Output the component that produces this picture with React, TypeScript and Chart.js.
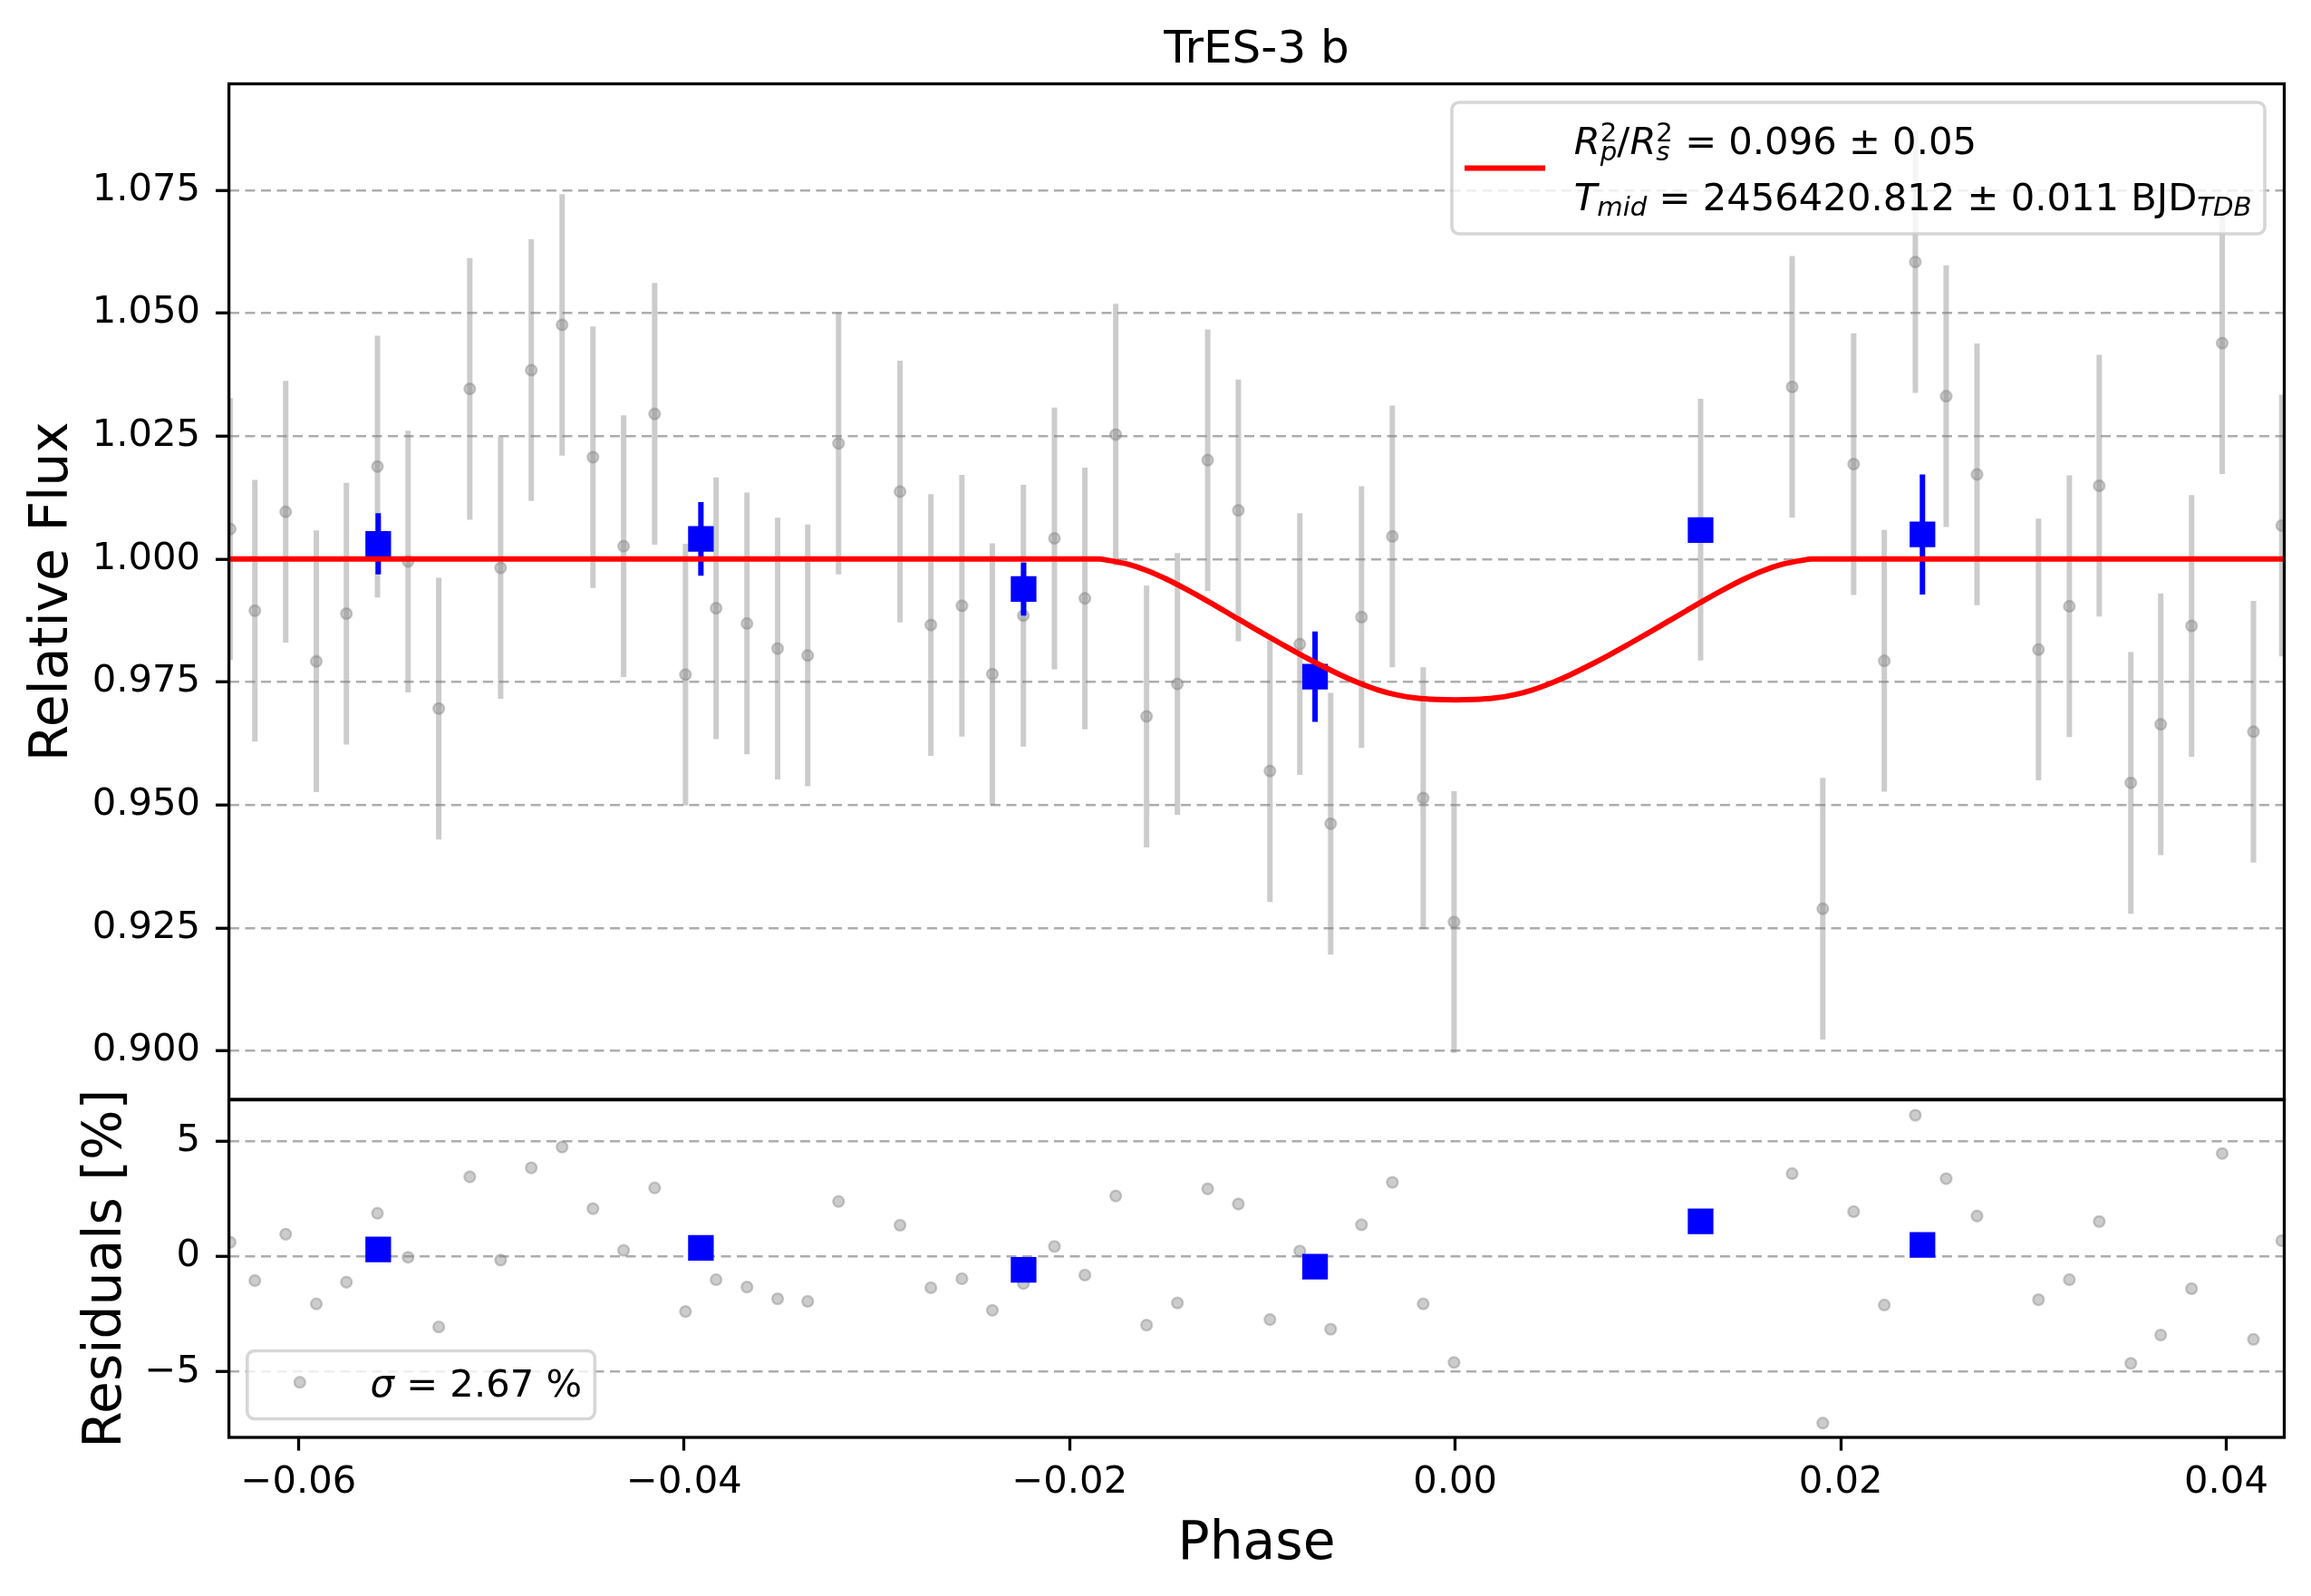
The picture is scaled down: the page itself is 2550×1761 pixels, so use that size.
import React, { useEffect, useRef } from 'react';
import { Chart, registerables } from 'chart.js';

Chart.register(...registerables);

// ---------- data ----------
const PHASE = [
  -0.06355, -0.06227, -0.06067, -0.05908, -0.05752, -0.05591, -0.05432, -0.05273, -0.05112, -0.04952,
  -0.04793, -0.04633, -0.04473, -0.04314, -0.04153, -0.03993, -0.03834, -0.03674, -0.03515, -0.03359,
  -0.03199, -0.0288, -0.0272, -0.02559, -0.02401, -0.0224, -0.02079, -0.01921, -0.01761, -0.01601,
  -0.01441, -0.01284, -0.01125, -0.00961, -0.00806, -0.00646, -0.00486, -0.00326, -0.00166, -0.00006,
  0.01273, 0.01748, 0.01907, 0.02067, 0.02226, 0.02387, 0.02547, 0.02707, 0.03026, 0.03186,
  0.03341, 0.03505, 0.0366, 0.0382, 0.03979, 0.04141, 0.04288,
];
const FLUX = [
  1.0061, 0.9895, 1.0096, 0.9792, 0.9889, 1.0188, 0.9995, 0.9696, 1.0346, 0.9982,
  1.0384, 1.0476, 1.0207, 1.0026, 1.0295, 0.9765, 0.99, 0.9869, 0.9818, 0.9804,
  1.0235, 1.0137, 0.9866, 0.9905, 0.9766, 0.9885, 1.0042, 0.992, 1.0253, 0.968,
  0.9746, 1.0201, 1.0099, 0.9569, 0.9827, 0.9462, 0.9882, 1.0046, 0.9514, 0.9262,
  1.006, 1.035, 0.9289, 1.0193, 0.9793, 1.0604, 1.0331, 1.0172, 0.9816, 0.9904,
  1.0149, 0.9545, 0.9664, 0.9864, 1.0439, 0.9649, 1.0068,
];
const FLUX_ERR = 0.0266;
const RESID = [
  0.62, -1.04, 0.97, -2.05, -1.11, 1.88, -0.03, -3.05, 3.46, -0.15,
  3.85, 4.75, 2.08, 0.27, 2.98, -2.38, -1.0, -1.32, -1.83, -1.94,
  2.39, 1.36, -1.35, -0.96, -2.33, -1.17, 0.44, -0.8, 2.63, -2.97,
  -2.01, 2.94, 2.28, -2.73, 0.24, -3.15, 1.38, 3.22, -2.05, -4.59,
  1.53, 3.6, -7.22, 1.95, -2.1, 6.13, 3.38, 1.76, -1.87, -1.0,
  1.52, -4.63, -3.4, -1.39, 4.47, -3.59, 0.69,
];
const BIN_PHASE = [-0.05587, -0.03913, -0.02239, -0.00727, 0.01273, 0.02424];
const BIN_FLUX = [1.0031, 1.0041, 0.9939, 0.9761, 1.0059, 1.005];
const BIN_ERR = [0.0062, 0.0075, 0.0054, 0.0092, 0, 0.0122];
const BIN_RESID = [0.31, 0.38, -0.57, -0.44, 1.53, 0.51];
const MODEL_PHASE = [
  -0.064, -0.0185, -0.018, -0.017, -0.016, -0.015, -0.014, -0.013, -0.012, -0.011, -0.01,
  -0.009, -0.008, -0.007, -0.006, -0.005, -0.004, -0.003, -0.002, -0.001, 0.0,
  0.001, 0.002, 0.003, 0.004, 0.005, 0.006, 0.007, 0.008, 0.009, 0.01,
  0.011, 0.012, 0.013, 0.014, 0.015, 0.016, 0.017, 0.018, 0.0185, 0.0435,
];
const MODEL_FLUX = [
  1.0, 1.0, 0.99974, 0.99897, 0.99768, 0.99596, 0.99395, 0.99178, 0.98951, 0.98722, 0.98493,
  0.9827, 0.98052, 0.97846, 0.97654, 0.97482, 0.97338, 0.97235, 0.97172, 0.97144, 0.97135,
  0.97144, 0.97172, 0.97235, 0.97338, 0.97482, 0.97654, 0.97846, 0.98052, 0.9827, 0.98493,
  0.98722, 0.98951, 0.99178, 0.99395, 0.99596, 0.99768, 0.99897, 0.99974, 1.0, 1.0,
];
const FLUX_TICKS = [0.9, 0.925, 0.95, 0.975, 1.0, 1.025, 1.05, 1.075];
const RESID_TICKS = [-5, 0, 5];
const PHASE_TICKS = [-0.06, -0.04, -0.02, 0.0, 0.02, 0.04];
const X_MIN = -0.063615;
const X_MAX = 0.043009;
const Y_MIN = 0.89016;
const Y_MAX = 1.09661;
const R_MIN = -7.84;
const R_MAX = 6.797;

const TITLE = 'TrES-3 b';
const Y_LABEL = 'Relative Flux';
const R_LABEL = 'Residuals [%]';
const X_LABEL = 'Phase';

// ---------- styling ----------
const FONT = "'DejaVu Sans', 'Liberation Sans', sans-serif";
const W = 2550;
const H = 1761;
const TICK_SIZE = 41.7;
const LABEL_SIZE = 58.3;
const TITLE_SIZE = 50;
const GRAY = 'rgba(128,128,128,0.4)';

const fmt = (v: number, d: number) => {
  const s = Math.abs(v).toFixed(d);
  return (v < -1e-12 ? '\u2212' : '') + s;
};

const errorBarPlugin = {
  id: 'errorBars',
  beforeDatasetDraw(chart: any, args: any) {
    const ds: any = chart.data.datasets[args.index];
    const eb = ds.errorBars;
    if (!eb) return;
    const { ctx, chartArea } = chart;
    const xs = chart.scales.x;
    const ys = chart.scales.y;
    ctx.save();
    ctx.beginPath();
    ctx.rect(chartArea.left, chartArea.top, chartArea.right - chartArea.left, chartArea.bottom - chartArea.top);
    ctx.clip();
    ctx.strokeStyle = eb.color;
    ctx.lineWidth = eb.width;
    ctx.lineCap = 'butt';
    ds.data.forEach((p: any, i: number) => {
      const e = Array.isArray(eb.err) ? eb.err[i] : eb.err;
      if (!e) return;
      const px = xs.getPixelForValue(p.x);
      ctx.beginPath();
      ctx.moveTo(px, ys.getPixelForValue(p.y - e));
      ctx.lineTo(px, ys.getPixelForValue(p.y + e));
      ctx.stroke();
    });
    ctx.restore();
  },
};

const framePlugin = {
  id: 'frame',
  afterDatasetsDraw(chart: any) {
    const { ctx, chartArea } = chart;
    ctx.save();
    ctx.strokeStyle = '#000';
    ctx.lineWidth = 3.3;
    ctx.strokeRect(chartArea.left, chartArea.top, chartArea.right - chartArea.left, chartArea.bottom - chartArea.top);
    ctx.restore();
  },
};

type Piece = { t: string; it?: boolean; s?: number; dy?: number };

function drawMath(ctx: CanvasRenderingContext2D, x: number, y: number, groups: Piece[][]) {
  let cx = x;
  ctx.textAlign = 'left';
  ctx.textBaseline = 'alphabetic';
  ctx.fillStyle = '#000';
  for (const g of groups) {
    let w = 0;
    for (const p of g) {
      const size = p.s ?? TICK_SIZE;
      ctx.font = `${p.it ? 'italic ' : ''}${size}px ${FONT}`;
      ctx.fillText(p.t, cx, y + (p.dy ?? 0));
      w = Math.max(w, ctx.measureText(p.t).width);
    }
    cx += w;
  }
}

function legendBox(ctx: CanvasRenderingContext2D, x: number, y: number, w: number, h: number) {
  ctx.save();
  ctx.beginPath();
  if ((ctx as any).roundRect) (ctx as any).roundRect(x, y, w, h, 8);
  else ctx.rect(x, y, w, h);
  ctx.fillStyle = 'rgba(255,255,255,0.8)';
  ctx.fill();
  ctx.strokeStyle = 'rgba(204,204,204,0.8)';
  ctx.lineWidth = 3.6;
  ctx.stroke();
  ctx.restore();
}

function rotatedLabel(ctx: CanvasRenderingContext2D, text: string, bx: number, cy: number) {
  ctx.save();
  ctx.translate(bx, cy);
  ctx.rotate(-Math.PI / 2);
  ctx.font = `${LABEL_SIZE}px ${FONT}`;
  ctx.fillStyle = '#000';
  ctx.textAlign = 'center';
  ctx.textBaseline = 'alphabetic';
  ctx.fillText(text, 0, 0);
  ctx.restore();
}

const SUB = 29.2;

const topTextPlugin = {
  id: 'topText',
  afterDraw(chart: any) {
    const { ctx, chartArea } = chart;
    const cx = (chartArea.left + chartArea.right) / 2;
    ctx.save();
    ctx.font = `${TITLE_SIZE}px ${FONT}`;
    ctx.fillStyle = '#000';
    ctx.textAlign = 'center';
    ctx.textBaseline = 'alphabetic';
    ctx.fillText(TITLE, cx, 69);
    rotatedLabel(ctx, Y_LABEL, 73.7, (chartArea.top + chartArea.bottom) / 2);

    // legend
    legendBox(ctx, 1602, 113, 897, 145);
    ctx.strokeStyle = '#ff0000';
    ctx.lineWidth = 6;
    ctx.beginPath();
    ctx.moveTo(1616, 185.5);
    ctx.lineTo(1705, 185.5);
    ctx.stroke();
    drawMath(ctx, 1736.8, 170, [
      [{ t: 'R', it: true }],
      [{ t: 'p', it: true, s: SUB, dy: 7 }, { t: '2', s: SUB, dy: -14 }],
      [{ t: '/' }],
      [{ t: 'R', it: true }],
      [{ t: 's', it: true, s: SUB, dy: 7 }, { t: '2', s: SUB, dy: -14 }],
      [{ t: ' = 0.096 \u00b1 0.05' }],
    ]);
    drawMath(ctx, 1736.8, 232, [
      [{ t: 'T', it: true }],
      [{ t: 'mid', it: true, s: SUB, dy: 5.5 }],
      [{ t: ' = 2456420.812 \u00b1 0.011 BJD' }],
      [{ t: 'TDB', it: true, s: SUB, dy: 5.5 }],
    ]);
    ctx.restore();
  },
};

const botTextPlugin = {
  id: 'botText',
  afterDraw(chart: any) {
    const { ctx, chartArea } = chart;
    const cx = (chartArea.left + chartArea.right) / 2;
    ctx.save();
    rotatedLabel(ctx, R_LABEL, 133, (chartArea.top + chartArea.bottom) / 2);
    ctx.font = `${LABEL_SIZE}px ${FONT}`;
    ctx.fillStyle = '#000';
    ctx.textAlign = 'center';
    ctx.textBaseline = 'alphabetic';
    ctx.fillText(X_LABEL, cx, 1720);

    legendBox(ctx, 272.8, 1490.5, 383.5, 75);
    ctx.beginPath();
    ctx.arc(330.8, 1525.2, 6, 0, Math.PI * 2);
    ctx.fillStyle = GRAY;
    ctx.fill();
    ctx.strokeStyle = GRAY;
    ctx.lineWidth = 2.3;
    ctx.stroke();
    drawMath(ctx, 408.5, 1541, [[{ t: '\u03c3', it: true }], [{ t: ' = 2.67 %' }]]);
    ctx.restore();
  },
};

const yAxisCommon = (ticks: number[], dec: number) => ({
  type: 'linear',
  afterFit(s: any) {
    s.width = 252.6;
  },
  afterBuildTicks(s: any) {
    s.ticks = ticks.map((v) => ({ value: v }));
  },
  ticks: {
    font: { family: FONT, size: TICK_SIZE },
    color: '#000',
    padding: 17,
    callback: (v: any) => fmt(Number(v), dec),
  },
  grid: {
    color: '#adadad',
    lineWidth: 2.5,
    tickColor: '#000',
    tickWidth: 3.3,
    tickLength: 14.6,
    tickBorderDash: [],
  },
  border: { display: false, dash: [11, 6.5] },
});

export default function App() {
  const topRef = useRef<HTMLCanvasElement>(null);
  const botRef = useRef<HTMLCanvasElement>(null);

  useEffect(() => {
    const dataPts = PHASE.map((x, i) => ({ x, y: FLUX[i] }));
    const binPts = BIN_PHASE.map((x, i) => ({ x, y: BIN_FLUX[i] }));
    const modelPts = MODEL_PHASE.map((x, i) => ({ x, y: MODEL_FLUX[i] }));
    const residPts = PHASE.map((x, i) => ({ x, y: RESID[i] }));
    const binResPts = BIN_PHASE.map((x, i) => ({ x, y: BIN_RESID[i] }));

    const top = new Chart(topRef.current as HTMLCanvasElement, {
      type: 'scatter',
      data: {
        datasets: [
          {
            type: 'line',
            label: 'model',
            data: modelPts,
            borderColor: '#ff0000',
            borderWidth: 6,
            pointRadius: 0,
            cubicInterpolationMode: 'monotone',
            fill: false,
            order: 0,
            clip: 0,
          } as any,
          {
            label: 'binned',
            data: binPts,
            pointStyle: 'rect',
            pointRadius: 20,
            backgroundColor: '#0000ff',
            borderWidth: 0,
            order: 1,
            clip: 0,
            errorBars: { err: BIN_ERR, color: '#0000ff', width: 6 },
          } as any,
          {
            label: 'data',
            data: dataPts,
            pointRadius: 6,
            borderWidth: 2.3,
            backgroundColor: GRAY,
            borderColor: GRAY,
            order: 2,
            clip: 0,
            errorBars: { err: FLUX_ERR, color: GRAY, width: 6 },
          } as any,
        ],
      },
      options: {
        responsive: false,
        animation: false,
        devicePixelRatio: 1,
        events: [],
        layout: { padding: { left: 0, top: 92.5, right: 29.5, bottom: 548 } },
        plugins: { legend: { display: false }, tooltip: { enabled: false }, title: { display: false } },
        scales: {
          x: { type: 'linear', display: false, min: X_MIN, max: X_MAX },
          y: { ...(yAxisCommon(FLUX_TICKS, 3) as any), min: Y_MIN, max: Y_MAX },
        },
      } as any,
      plugins: [errorBarPlugin, framePlugin, topTextPlugin],
    });

    const bot = new Chart(botRef.current as HTMLCanvasElement, {
      type: 'scatter',
      data: {
        datasets: [
          {
            label: 'binned residuals',
            data: binResPts,
            pointStyle: 'rect',
            pointRadius: 20,
            backgroundColor: '#0000ff',
            borderWidth: 0,
            order: 0,
            clip: 0,
          } as any,
          {
            label: 'residuals',
            data: residPts,
            pointRadius: 6,
            borderWidth: 2.3,
            backgroundColor: GRAY,
            borderColor: GRAY,
            order: 1,
            clip: 0,
          } as any,
        ],
      },
      options: {
        responsive: false,
        animation: false,
        devicePixelRatio: 1,
        events: [],
        layout: { padding: { left: 0, top: 1213.6, right: 29.5, bottom: 0 } },
        plugins: { legend: { display: false }, tooltip: { enabled: false }, title: { display: false } },
        scales: {
          x: {
            type: 'linear',
            min: X_MIN,
            max: X_MAX,
            afterFit(s: any) {
              s.height = 175;
            },
            afterBuildTicks(s: any) {
              s.ticks = PHASE_TICKS.map((v) => ({ value: v }));
            },
            ticks: {
              font: { family: FONT, size: TICK_SIZE },
              color: '#000',
              padding: 11,
              maxRotation: 0,
              autoSkip: false,
              callback: (v: any) => fmt(Number(v), 2),
            },
            grid: {
              drawOnChartArea: false,
              drawTicks: true,
              color: '#000',
              tickColor: '#000',
              tickWidth: 3.3,
              tickLength: 14.6,
            },
            border: { display: false },
          },
          y: { ...(yAxisCommon(RESID_TICKS, 0) as any), min: R_MIN, max: R_MAX },
        },
      } as any,
      plugins: [errorBarPlugin, framePlugin, botTextPlugin],
    });

    return () => {
      top.destroy();
      bot.destroy();
    };
  }, []);

  const cStyle: React.CSSProperties = { position: 'absolute', left: 0, top: 0, width: W, height: H };
  return (
    <div style={{ position: 'absolute', left: 0, top: 0, width: W, height: H, background: '#ffffff' }}>
      <canvas ref={topRef} width={W} height={H} style={cStyle} />
      <canvas ref={botRef} width={W} height={H} style={cStyle} />
    </div>
  );
}
